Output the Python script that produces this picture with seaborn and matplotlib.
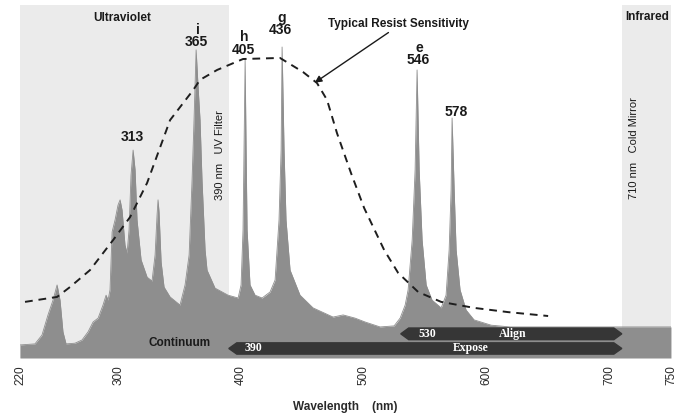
#!/usr/bin/env python3
"""Mercury lamp emission spectrum with typical resist sensitivity overlay."""

import seaborn as sns
import matplotlib.pyplot as plt
from matplotlib.patches import Polygon

# spectrum outline (wavelength nm, relative intensity %)
wavelength = [
    220.0, 232.2, 237.9, 242.8, 246.9, 250.2, 252.6, 255.0, 257.5, 264.8,
    270.5, 275.4, 279.5, 283.6, 287.6, 290.1, 291.7, 293.3, 295.0, 297.4,
    299.8, 301.5, 303.1, 305.5, 307.2, 308.8, 310.4, 312.1, 313.7, 315.3,
    318.6, 323.5, 327.5, 330.0, 331.6, 332.4, 333.2, 334.9, 337.3, 342.2,
    350.3, 354.4, 357.7, 360.1, 361.7, 362.5, 363.4, 365.0, 366.6, 368.2,
    370.7, 372.3, 378.8, 389.4, 397.6, 400.0, 401.6, 402.4, 403.3, 404.1,
    404.9, 407.3, 411.4, 417.1, 423.6, 427.7, 430.9, 432.6, 433.4, 435.0,
    436.6, 439.9, 448.0, 458.6, 474.9, 483.1, 492.8, 501.0, 513.2, 524.6,
    529.5, 533.6, 536.0, 539.3, 541.7, 543.3, 545.0, 547.4, 550.7, 555.5,
    562.9, 566.9, 569.4, 571.0, 571.8, 573.5, 575.1, 578.3, 583.2, 589.7,
    603.6, 619.1, 750.0,
]
intensity = [
    3.7, 4.0, 6.5, 12.2, 16.4, 20.7, 16.4, 7.4, 4.0, 4.2,
    5.1, 7.4, 10.2, 11.3, 15.0, 17.8, 16.4, 19.3, 35.7, 39.1,
    43.3, 44.8, 41.9, 32.0, 29.7, 36.3, 51.8, 58.9, 53.3, 39.1,
    27.8, 22.9, 21.8, 29.2, 40.5, 44.8, 41.4, 27.2, 20.1, 17.3,
    15.0, 20.7, 29.2, 50.4, 67.4, 76.8, 87.3, 76.8, 67.4, 50.4,
    30.6, 24.9, 19.8, 17.8, 17.0, 20.7, 36.3, 58.9, 84.4, 58.9,
    36.3, 20.7, 17.8, 17.0, 18.7, 22.1, 39.1, 58.9, 88.1, 58.9,
    39.1, 24.9, 17.8, 14.2, 11.6, 12.2, 11.3, 10.2, 8.8, 9.1,
    11.3, 15.0, 19.3, 33.4, 53.3, 81.6, 53.3, 33.4, 20.7, 16.4,
    14.2, 17.8, 30.6, 47.6, 68.0, 47.6, 30.6, 19.3, 13.6, 10.8,
    9.3, 8.8, 8.8,
]

# typical resist sensitivity (dashed curve)
resist_wl = [224.1, 250.2, 260.7, 277.0, 287.6, 295.8, 309.6, 323.5, 342.2, 361.0,
             366.6, 380.5, 401.6, 431.7, 450.5, 461.8, 470.0, 478.1, 489.5, 500.2,
             516.5, 527.9, 544.2, 562.9, 589.7, 617.4, 650.0]
resist_val = [15.9, 17.3, 20.1, 24.9, 29.7, 33.4, 39.9, 49.6, 67.4, 75.9,
              78.8, 81.6, 84.7, 85.0, 81.0, 77.9, 73.1, 63.7, 52.4, 42.5,
              30.6, 24.1, 18.7, 15.9, 14.2, 13.0, 11.9]

# mercury lines and their labels
line_nums = ["313", "365", "405", "436", "546", "578"]
line_names = ["", "i", "h", "g", "e", ""]
label_wl = [311.3, 363.4, 401.6, 431.7, 544.2, 575.1]
label_y = [62.6, 89.5, 87.3, 92.9, 84.4, 69.7]

# filter edges and exposure / alignment bands
uv_filter = 390
cold_mirror = 710
expose_band = (390, 710)
align_band = (530, 710)

xticks = [220, 300, 400, 500, 600, 700, 750]

FILL = "#8e8e8e"
DARK = "#363636"
SPECKLE = "#ebebeb"


def band_arrow(ax, start, end, y0, y1, tip=6.5):
    ym = (y0 + y1) / 2
    pts = [(start, ym), (start + tip, y1), (end - tip, y1), (end, ym),
           (end - tip, y0), (start + tip, y0)]
    ax.add_patch(Polygon(pts, closed=True, color=DARK, zorder=5))


def main():
    sns.set_theme(style="white")
    plt.rcParams["font.family"] = ["Liberation Sans", "DejaVu Sans"]

    fig = plt.figure(figsize=(6.82, 4.2), dpi=100)
    ax = fig.add_axes([0.0293, 0.1476, 0.9545, 0.8405])

    ax.axvspan(220, uv_filter, color=SPECKLE, lw=0, zorder=0)
    ax.axvspan(cold_mirror, 750, color=SPECKLE, lw=0, zorder=0)

    ax.fill_between(wavelength, intensity, 0, color=FILL, lw=0, zorder=2)
    sns.lineplot(x=wavelength, y=intensity, ax=ax, color=FILL, lw=0.6, zorder=2)
    sns.lineplot(x=resist_wl, y=resist_val, ax=ax, color="#1e1e1e", lw=1.4,
                 linestyle=(0, (4, 3)), zorder=4)

    # exposure / alignment bands
    band_arrow(ax, *expose_band, 1.1, 4.3)
    band_arrow(ax, *align_band, 5.2, 8.5)
    ax.text(410, 2.7, "390", color="white", fontsize=8.5, fontweight="bold",
            ha="center", va="center", family="Liberation Serif", zorder=6)
    ax.text(587, 2.7, "Expose", color="white", fontsize=8.5, fontweight="bold",
            ha="center", va="center", family="Liberation Serif", zorder=6)
    ax.text(552, 6.8, "530", color="white", fontsize=8.5, fontweight="bold",
            ha="center", va="center", family="Liberation Serif", zorder=6)
    ax.text(621, 6.8, "Align", color="white", fontsize=8.5, fontweight="bold",
            ha="center", va="center", family="Liberation Serif", zorder=6)
    ax.text(350, 4.2, "Continuum", fontsize=8.5, fontweight="bold",
            ha="center", va="center", color="#1a1a1a", zorder=6)

    # line labels
    for num, name, x, y in zip(line_nums, line_names, label_wl, label_y):
        ax.text(x, y, num, fontsize=10, fontweight="bold", ha="center",
                va="center", color="#1a1a1a", zorder=6)
        if name:
            ax.annotate(name, (x, y), xytext=(1, 9), textcoords="offset points",
                        fontsize=10, fontweight="bold", ha="center", va="center",
                        color="#1a1a1a", zorder=6)

    ax.text(303, 96.3, "Ultraviolet", fontsize=8.5, fontweight="bold",
            ha="center", va="center", color="#1a1a1a")
    ax.text(731, 96.6, "Infrared", fontsize=8.5, fontweight="bold",
            ha="center", va="center", color="#1a1a1a")
    ax.text(383, 57.5, "390 nm   UV Filter", rotation=90, fontsize=8,
            ha="center", va="center", color="#1a1a1a")
    ax.text(720, 59.5, "710 nm   Cold Mirror", rotation=90, fontsize=8,
            ha="center", va="center", color="#1a1a1a")

    ax.text(528, 94.6, "Typical Resist Sensitivity", fontsize=8.5,
            fontweight="bold", ha="center", va="center", color="#1a1a1a")
    ax.annotate("", xy=(460, 78), xytext=(520, 92.2),
                arrowprops=dict(arrowstyle="-|>", color="#1a1a1a", lw=1.0,
                                mutation_scale=10, shrinkA=0, shrinkB=0))

    ax.set_xlim(220, 750)
    ax.set_ylim(0, 100)
    ax.set_xticks(xticks)
    ax.set_xticklabels([str(t) for t in xticks], rotation=90, fontsize=8.5,
                       color="#2a2a2a")
    ax.set_yticks([])
    ax.tick_params(axis="x", length=0, pad=5)
    ax.set_xlabel("Wavelength    (nm)", fontsize=8.5, fontweight="bold",
                  color="#2a2a2a", labelpad=12)
    for s in ax.spines.values():
        s.set_visible(False)

    fig.savefig("out.png", dpi=100)
    plt.close(fig)


if __name__ == "__main__":
    main()
